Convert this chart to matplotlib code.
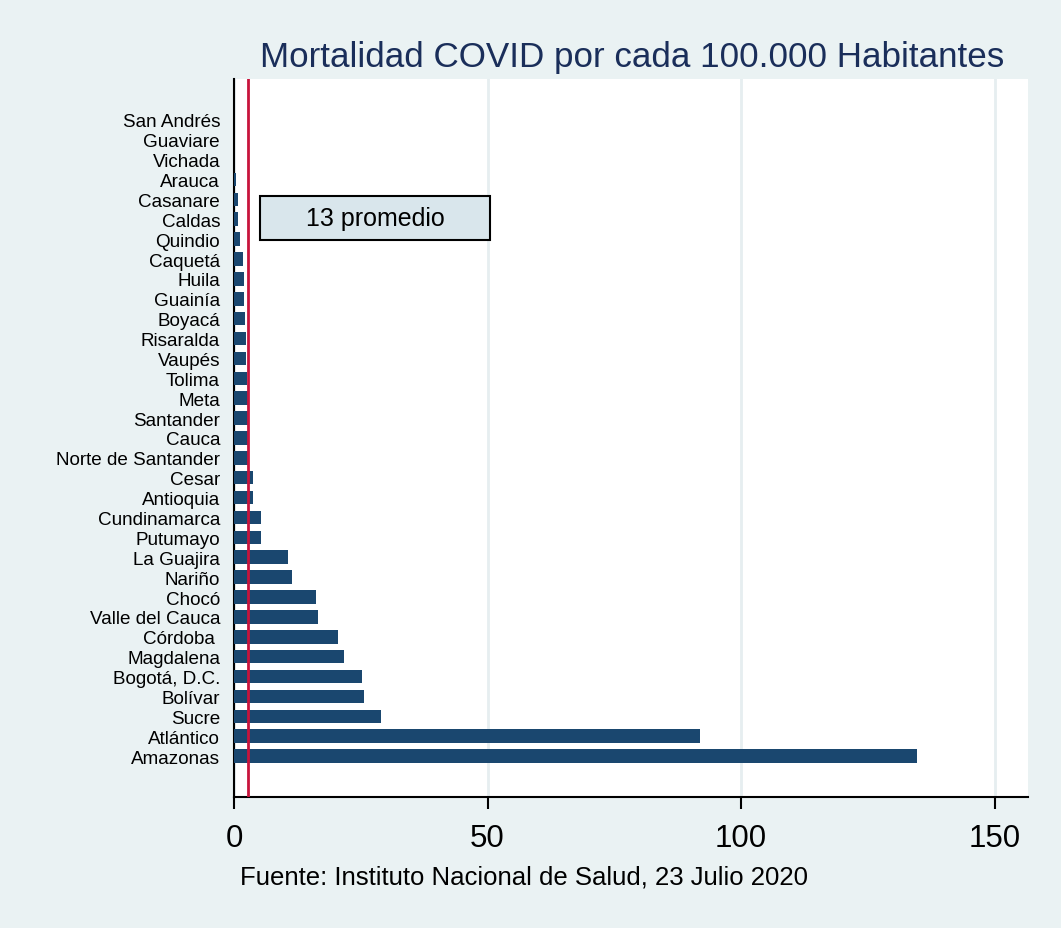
import matplotlib
matplotlib.use("Agg")
import matplotlib.pyplot as plt
from matplotlib.patches import Rectangle
import numpy as np

# data (top to bottom)
departamentos = ["San Andrés", "Guaviare", "Vichada", "Arauca", "Casanare", "Caldas",
                 "Quindio", "Caquetá", "Huila", "Guainía", "Boyacá", "Risaralda",
                 "Vaupés", "Tolima", "Meta", "Santander", "Cauca", "Norte de Santander",
                 "Cesar", "Antioquia", "Cundinamarca", "Putumayo", "La Guajira", "Nariño",
                 "Chocó", "Valle del Cauca", "Córdoba ", "Magdalena", "Bogotá, D.C.",
                 "Bolívar", "Sucre", "Atlántico", "Amazonas"]
mortalidad = [0.0, 0.0, 0.0, 0.35, 0.75, 0.75,
              1.2, 1.7, 1.9, 2.0, 2.2, 2.3,
              2.4, 2.6, 2.7, 2.7, 2.75, 3.0,
              3.7, 3.8, 5.3, 5.4, 10.6, 11.4,
              16.1, 16.5, 20.5, 21.7, 25.2,
              25.6, 29.0, 91.9, 134.7]
promedio_linea = 2.8
etiqueta = "13 promedio"

bg = "#eaf2f3"
navy = "#1a476f"

plt.rcParams['font.family'] = ['Liberation Sans', 'DejaVu Sans']

fig = plt.figure(figsize=(10.61, 9.29), dpi=100, facecolor=bg)
ax = fig.add_axes([0.2205, 0.141, 0.7485, 0.773])
ax.set_facecolor("white")

y = np.arange(len(departamentos))
ax.barh(y, mortalidad, height=0.68, color=navy, zorder=3)
ax.axvline(promedio_linea, color="#c8143c", lw=2, zorder=4)

ax.set_xlim(0, 156.6)
ax.set_ylim(len(departamentos) - 1 + 2.06, -2.06)
ax.set_xticks([0, 50, 100, 150])
ax.set_yticks(y)
ax.set_yticklabels(departamentos, fontsize=13.6)
ax.tick_params(axis="y", length=0, pad=10)
ax.tick_params(axis="x", labelsize=22.5, length=8.5, width=1.5, pad=10)
ax.grid(axis="x", color="#e6eef0", lw=2, zorder=0)
for s in ["top", "right"]:
    ax.spines[s].set_visible(False)
ax.spines["left"].set_linewidth(1.5)
ax.spines["bottom"].set_linewidth(1.5)

# caja con la etiqueta del promedio
ax.add_patch(Rectangle((5.1, 3.82), 45.4, 2.22, fc="#d9e6ec", ec="black",
                       lw=1.5, zorder=5))
ax.text(27.8, 4.95, etiqueta, fontsize=18, ha="center", va="center", zorder=6)

fig.text(0.596, 0.938, "Mortalidad COVID por cada 100.000 Habitantes",
         ha="center", va="center", fontsize=25.2, color="#1a2e5a")
fig.text(0.226, 0.055, "Fuente: Instituto Nacional de Salud, 23 Julio 2020",
         ha="left", va="center", fontsize=18.5)

fig.savefig("out.png", dpi=100, facecolor=bg)
